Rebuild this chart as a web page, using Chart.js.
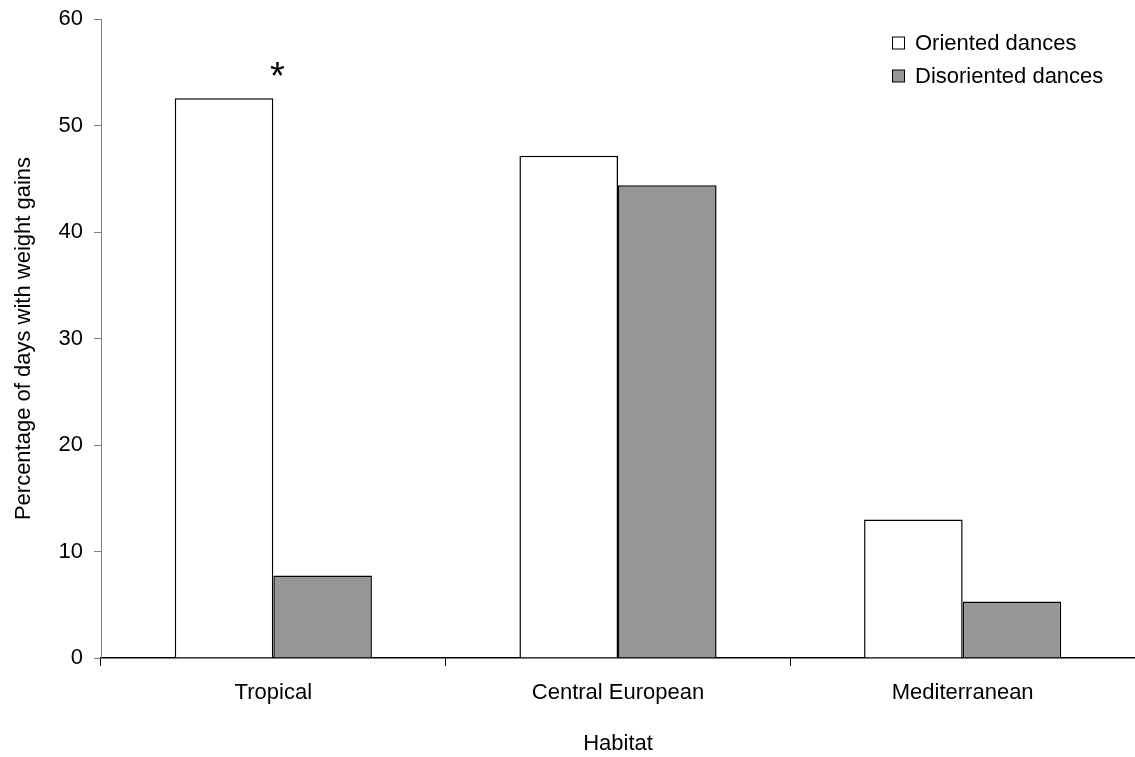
<!DOCTYPE html>
<html>
<head>
<meta charset="utf-8">
<script src="https://cdn.jsdelivr.net/npm/chart.js@4.4.1/dist/chart.umd.min.js"></script>
<style>
  html, body { margin: 0; padding: 0; background: #fff; }
  #wrap { width: 1135px; height: 757px; }
</style>
</head>
<body>
<div id="wrap"><canvas id="habitatChart" width="1135" height="757"></canvas></div>
<script>
// values
var habitats = ['Tropical', 'Central European', 'Mediterranean'];
var orientedDances = [52.55, 47.15, 13.0];
var disorientedDances = [7.75, 44.4, 5.3];
var seriesNames = ['Oriented dances', 'Disoriented dances'];
var yTicks = [0, 10, 20, 30, 40, 50, 60];
var significant = ['*', '', '']; // marker above the category

var FONT = "'Liberation Sans', Arial, sans-serif";

// legend + significance star drawn on top
var extrasPlugin = {
	id: 'extras',
	afterDraw: function(chart) {
		var ctx = chart.ctx;
		var xs = chart.scales.x, ys = chart.scales.y;
		ctx.save();
		//asterisk over the tropical pair
		ctx.fillStyle = '#000';
		ctx.font = '38px ' + FONT;
		ctx.textAlign = 'center';
		ctx.textBaseline = 'alphabetic';
		for (var i = 0; i < habitats.length; i++) {
			if (!significant[i]) continue;
			var top = ys.getPixelForValue(Math.max(orientedDances[i], disorientedDances[i]));
			ctx.fillText(significant[i], xs.getPixelForValue(i) + 4, top - 9);
		}
		//legend
		ctx.font = '22px ' + FONT;
		ctx.textAlign = 'left';
		ctx.textBaseline = 'middle';
		chart.data.datasets.forEach(function(ds, k) {
			var cy = 43 + k * 33;
			ctx.fillStyle = ds.backgroundColor;
			ctx.fillRect(892.5, cy - 6, 12, 12);
			ctx.strokeStyle = '#000';
			ctx.lineWidth = 1;
			ctx.strokeRect(892.5, cy - 6, 12, 12);
			ctx.fillStyle = '#000';
			ctx.fillText(ds.label, 915, cy + 1);
		});
		ctx.restore();
	}
};

var ctx = document.getElementById('habitatChart').getContext('2d');
var myChart = new Chart(ctx, {
	type: 'bar',
	data: {
		labels: habitats,
		datasets: [
			{
				label: seriesNames[0],
				data: orientedDances,
				backgroundColor: '#ffffff',
				borderColor: '#000000',
				borderWidth: 1.5
			},
			{
				label: seriesNames[1],
				data: disorientedDances,
				backgroundColor: '#969696',
				borderColor: '#000000',
				borderWidth: 1.5
			}
		]
	},
	options: {
		responsive: false,
		animation: false,
		categoryPercentage: 0.572,
		barPercentage: 1.0,
		layout: { padding: { top: 19, right: 0, left: 0, bottom: 0 } },
		plugins: {
			legend: { display: false },
			tooltip: { enabled: false }
		},
		scales: {
			x: {
				afterFit: function(scale) {
					scale.height = 99;
					scale.paddingLeft = 0;
					scale.paddingRight = 0;
				},
				grid: {
					offset: true,
					drawOnChartArea: false,
					color: '#000',
					tickLength: 8,
					lineWidth: 1
				},
				border: { color: '#000', width: 1.5 },
				ticks: { color: '#000', font: { family: FONT, size: 22 }, padding: 14 },
				title: {
					display: true,
					text: 'Habitat',
					color: '#000',
					font: { family: FONT, size: 22 },
					padding: { top: 0, bottom: 0 }
				}
			},
			y: {
				min: 0,
				max: 60,
				afterFit: function(scale) {
					scale.width = 101;
					scale.paddingTop = 0;
					scale.paddingBottom = 0;
				},
				afterBuildTicks: function(scale) {
					scale.ticks = yTicks.map(function(v) { return { value: v }; });
				},
				grid: {
					drawOnChartArea: false,
					color: '#808080',
					tickLength: 7
				},
				border: { color: '#808080', width: 1 },
				ticks: { color: '#000', font: { family: FONT, size: 22 }, padding: 11 },
				title: {
					display: true,
					text: 'Percentage of days with weight gains',
					color: '#000',
					font: { family: FONT, size: 22 },
					padding: { top: 11, bottom: 0 }
				}
			}
		}
	},
	plugins: [extrasPlugin]
});
</script>
</body>
</html>
